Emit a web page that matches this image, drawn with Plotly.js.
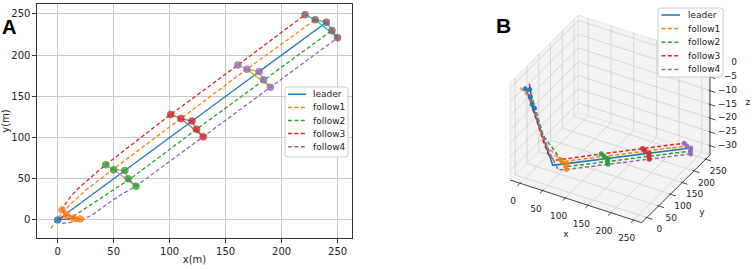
<!DOCTYPE html>
<html>
<head>
<meta charset="utf-8">
<script src="https://cdn.plot.ly/plotly-3.0.1.min.js"></script>
<style>html,body{margin:0;padding:0;background:#fff;}#chart{width:754px;height:269px;}</style>
</head>
<body>
<div id="chart"></div>
<script>
// ---------------- DATA ----------------
// trajectories: x, y (m) and depth z (3D panel)
const leaderX = [0, 40, 240];
const leaderY = [0, 40, 240];
const leaderZ = [0, -30, -30];

const follow1X = [-6, 3, 12, 25, 50, 110, 169, 230];
const follow1Y = [-10, 7, 20, 36, 62, 123, 183, 243];
const follow1Z = [0, -4, -12, -23, -30, -30, -30, -30];

const follow2X = [9, 30, 65, 124, 184, 245];
const follow2Y = [0, 19, 50, 110, 170, 230];
const follow2Z = [0, -18, -30, -30, -30, -30];

const follow3X = [3, 7, 12, 19, 27, 35, 43, 101, 161, 221];
const follow3Y = [12, 20, 29, 39, 49, 58, 67, 128, 188, 249];
const follow3Z = [0, -10, -15, -22, -28, -30, -30, -30, -30, -30];

const follow4X = [4, 12, 22, 32, 45, 57, 70, 130, 190, 250];
const follow4Y = [-4, -3, 0, 7, 20, 31, 41, 101, 161, 221];
const follow4Z = [0, -3, -8, -15, -24, -30, -30, -30, -30, -30];

// formation snapshots, order: follow3, follow1, leader, follow2, follow4
const form0X = [4, 8, 0, 14, 20];
const form0Y = [12, 6, 0, 2, 1];
const form0Z = [-2, -4, -1, -6, -7];
const form60X = [43, 50, 60, 63, 70];
const form60Y = [67, 61, 60, 50, 41];
const form120X = [101, 110, 120, 124, 130];
const form120Y = [128, 123, 120, 110, 101];
const form180X = [161, 169, 180, 184, 190];
const form180Y = [188, 183, 180, 170, 161];
const form240X = [221, 230, 240, 245, 250];
const form240Y = [249, 243, 240, 230, 221];
const formFloorZ = [-30, -30, -30, -30, -30];

const seriesNames = ['leader', 'follow1', 'follow2', 'follow3', 'follow4'];
const xTicks = [0, 50, 100, 150, 200, 250];
const yTicks = [0, 50, 100, 150, 200, 250];
const zTicks = [0, -5, -10, -15, -20, -25, -30];

// ---------------- STYLE / LAYOUT CONSTANTS ----------------
const C = ['#1f77b4', '#ff7f0e', '#2ca02c', '#d62728', '#9467bd', '#8c564b', '#e377c2', '#7f7f7f', '#bcbd22', '#17becf'];
const FONT = 'DejaVu Sans, sans-serif';
const W = 754, H = 269;
const DASH = '4px,2.4px';

// 3D panel: axis limits and an oblique view (elev 30, azim -60 look), in page pixels
const X3R = [-22, 268], Y3R = [-22, 268], Z3R = [-33.4, 2];
const VIEW = {ox: 510, oy: 180, ex: [0.4541, 0.1472], ey: [0.2355, -0.2334], ez: [0, -2.75]};
function proj(x, y, z) {
  const dx = x - X3R[0], dy = y - Y3R[0], dz = z - Z3R[0];
  return [VIEW.ox + dx * VIEW.ex[0] + dy * VIEW.ey[0] + dz * VIEW.ez[0],
          VIEW.oy + dx * VIEW.ex[1] + dy * VIEW.ey[1] + dz * VIEW.ez[1]];
}
function projArr(xs, ys, zs) {
  const px = [], py = [];
  xs.forEach((v, i) => { const p = proj(v, ys[i], zs[i]); px.push(p[0]); py.push(p[1]); });
  return {x: px, y: py};
}
function segs(list) {
  const px = [], py = [];
  list.forEach(s => { s.forEach(pt => { const p = proj(pt[0], pt[1], pt[2]); px.push(p[0]); py.push(p[1]); }); px.push(null); py.push(null); });
  return {x: px, y: py};
}

const paths = [
  {x: leaderX, y: leaderY, z: leaderZ, dash: 'solid'},
  {x: follow1X, y: follow1Y, z: follow1Z, dash: DASH},
  {x: follow2X, y: follow2Y, z: follow2Z, dash: DASH},
  {x: follow3X, y: follow3Y, z: follow3Z, dash: DASH},
  {x: follow4X, y: follow4Y, z: follow4Z, dash: DASH}
];
const forms = [
  {x: form0X, y: form0Y, z: form0Z, mc: [C[1], C[1], C[0], C[1], C[1]], mc3: C[0], lc: C[5]},
  {x: form60X, y: form60Y, z: formFloorZ, mc: C[2], mc3: C[1], lc: C[6]},
  {x: form120X, y: form120Y, z: formFloorZ, mc: C[3], mc3: C[2], lc: C[7]},
  {x: form180X, y: form180Y, z: formFloorZ, mc: C[4], mc3: C[3], lc: C[8]},
  {x: form240X, y: form240Y, z: formFloorZ, mc: C[5], mc3: C[4], lc: C[9]}
];
const linkOrder = [0, 1, 2, 3, 4, 1];

const traces = [];
// ---- Panel A ----
paths.forEach((p, i) => traces.push({
  type: 'scatter', mode: 'lines', x: p.x, y: p.y, name: seriesNames[i], showlegend: false,
  line: {color: C[i], width: 1.3, dash: p.dash}, xaxis: 'x', yaxis: 'y', hoverinfo: 'skip'
}));
forms.forEach(f => {
  traces.push({type: 'scatter', mode: 'lines', x: linkOrder.map(k => f.x[k]), y: linkOrder.map(k => f.y[k]),
    line: {color: f.lc, width: 1.3}, showlegend: false, hoverinfo: 'skip', xaxis: 'x', yaxis: 'y'});
  traces.push({type: 'scatter', mode: 'markers', x: f.x, y: f.y, xaxis: 'x', yaxis: 'y',
    marker: {color: f.mc, size: 7.5, opacity: 0.8}, showlegend: false, hoverinfo: 'skip'});
});

// ---- Panel B (oblique 3D view drawn on a pixel-space subplot) ----
const [x0, x1] = X3R, [y0, y1] = Y3R, [z0, z1] = Z3R;
const panes = [
  [[x0, y0, z0], [x1, y0, z0], [x1, y1, z0], [x0, y1, z0], [x0, y0, z0]],
  [[x0, y0, z0], [x0, y1, z0], [x0, y1, z1], [x0, y0, z1], [x0, y0, z0]],
  [[x0, y1, z0], [x1, y1, z0], [x1, y1, z1], [x0, y1, z1], [x0, y1, z0]]
];
panes.forEach(pg => {
  const p = projArr(pg.map(q => q[0]), pg.map(q => q[1]), pg.map(q => q[2]));
  traces.push({type: 'scatter', mode: 'lines', x: p.x, y: p.y, xaxis: 'x2', yaxis: 'y2', fill: 'toself',
    fillcolor: '#f3f3f3', line: {color: '#e2e2e2', width: 0.8}, showlegend: false, hoverinfo: 'skip'});
});
const grid = [];
xTicks.forEach(t => { grid.push([[t, y0, z0], [t, y1, z0]]); grid.push([[t, y1, z0], [t, y1, z1]]); });
yTicks.forEach(t => { grid.push([[x0, t, z0], [x1, t, z0]]); grid.push([[x0, t, z0], [x0, t, z1]]); });
zTicks.forEach(t => { grid.push([[x0, y0, t], [x0, y1, t]]); grid.push([[x0, y1, t], [x1, y1, t]]); });
const g = segs(grid);
traces.push({type: 'scatter', mode: 'lines', x: g.x, y: g.y, xaxis: 'x2', yaxis: 'y2',
  line: {color: '#d0d0d0', width: 0.8}, showlegend: false, hoverinfo: 'skip', connectgaps: false});
const axl = [
  [[x0, y0, z0], [x1, y0, z0]], [[x1, y0, z0], [x1, y1, z0]], [[x1, y1, z0], [x1, y1, z1]]
];
xTicks.forEach(t => axl.push([[t, y0 + 3, z0], [t, y0 - 12, z0]]));
yTicks.forEach(t => axl.push([[x1 - 3, t, z0], [x1 + 12, t, z0]]));
zTicks.forEach(t => axl.push([[x1 - 3, y1, t], [x1 + 12, y1, t]]));
const a = segs(axl);
traces.push({type: 'scatter', mode: 'lines', x: a.x, y: a.y, xaxis: 'x2', yaxis: 'y2',
  line: {color: '#333', width: 0.9}, showlegend: false, hoverinfo: 'skip'});
paths.forEach((p, i) => {
  const q = projArr(p.x, p.y, p.z);
  traces.push({type: 'scatter', mode: 'lines', x: q.x, y: q.y, xaxis: 'x2', yaxis: 'y2', showlegend: false,
    line: {color: C[i], width: 1.5, dash: p.dash}, hoverinfo: 'skip'});
});
forms.forEach(f => {
  const q = projArr(f.x, f.y, f.z);
  traces.push({type: 'scatter', mode: 'markers', x: q.x, y: q.y, xaxis: 'x2', yaxis: 'y2', showlegend: false,
    marker: {color: f.mc3, size: 5, opacity: 0.9}, hoverinfo: 'skip'});
});
const lab = (pts, texts, pos, dx, dy) => {
  const px = [], py = [];
  pts.forEach(pt => { const p = proj(pt[0], pt[1], pt[2]); px.push(p[0] + dx); py.push(p[1] + dy); });
  traces.push({type: 'scatter', mode: 'text', x: px, y: py, text: texts, textposition: pos, xaxis: 'x2', yaxis: 'y2',
    textfont: {family: FONT, size: 9, color: '#222'}, showlegend: false, hoverinfo: 'skip', cliponaxis: false});
};
const fmt = v => (v < 0 ? '\u2212' + Math.abs(v) : String(v));
lab(xTicks.map(t => [t, y0, z0]), xTicks.map(fmt), 'middle center', -6.8, 19);
lab(yTicks.map(t => [x1, t, z0]), yTicks.map(fmt), 'middle center', 12.5, 12.5);
lab(zTicks.map(t => [x1, y1, t]), zTicks.map(fmt), 'middle left', 27, 0);
lab([[(x0 + x1) / 2, y0, z0]], ['x'], 'middle center', -10, 33);
lab([[x1, (y0 + y1) / 2, z0]], ['y'], 'middle center', 26, 24);
lab([[x1, y1, (z0 + z1) / 2]], ['z'], 'middle center', 38, -4);

// ---------------- legends (drawn as shapes + text) ----------------
const shapes = [], annotations = [];
const px2x = v => v / W, py2y = v => 1 - v / H;
function roundRect(xa, ya, xb, yb, r) {
  const X = v => px2x(v), Y = v => py2y(v);
  return `M ${X(xa + r)} ${Y(ya)} L ${X(xb - r)} ${Y(ya)} Q ${X(xb)} ${Y(ya)} ${X(xb)} ${Y(ya + r)} L ${X(xb)} ${Y(yb - r)} Q ${X(xb)} ${Y(yb)} ${X(xb - r)} ${Y(yb)} L ${X(xa + r)} ${Y(yb)} Q ${X(xa)} ${Y(yb)} ${X(xa)} ${Y(yb - r)} L ${X(xa)} ${Y(ya + r)} Q ${X(xa)} ${Y(ya)} ${X(xa + r)} ${Y(ya)} Z`;
}
function legend(box, firstY, step, lx0, lx1, tx) {
  shapes.push({type: 'path', xref: 'paper', yref: 'paper', path: roundRect(box[0], box[1], box[2], box[3], 3),
    fillcolor: 'rgba(255,255,255,0.85)', line: {color: '#cccccc', width: 1}});
  seriesNames.forEach((n, i) => {
    const yy = firstY + i * step;
    shapes.push({type: 'line', xref: 'paper', yref: 'paper', x0: px2x(lx0), x1: px2x(lx1), y0: py2y(yy), y1: py2y(yy),
      line: {color: C[i], width: 1.5, dash: paths[i].dash}});
    annotations.push({text: n, xref: 'paper', yref: 'paper', x: px2x(tx), y: py2y(yy), xanchor: 'left', yanchor: 'middle',
      showarrow: false, font: {family: FONT, size: 9, color: '#222'}});
  });
}
legend([285, 87, 348, 157], 94.3, 13.1, 288, 306, 311);
legend([658, 8, 723, 77], 15, 13.6, 661.5, 680, 685.5);

annotations.push({text: '<b>A</b>', x: 0.0, y: py2y(27.5), xref: 'paper', yref: 'paper', xanchor: 'left', yanchor: 'middle',
  showarrow: false, font: {family: 'Liberation Sans, Arial, sans-serif', size: 20, color: '#000'}});
annotations.push({text: '<b>B</b>', x: px2x(494), y: py2y(26), xref: 'paper', yref: 'paper', xanchor: 'left', yanchor: 'middle',
  showarrow: false, font: {family: 'Liberation Sans, Arial, sans-serif', size: 21, color: '#000'}});

const layout = {
  width: W, height: H,
  margin: {l: 0, r: 0, t: 0, b: 0},
  paper_bgcolor: '#fff', plot_bgcolor: 'rgba(0,0,0,0)',
  font: {family: FONT, size: 10, color: '#222'},
  showlegend: false,
  xaxis: {
    domain: [0.049, 0.467], range: [-18.5, 263], tickvals: xTicks,
    showgrid: true, gridcolor: '#c8c8c8', gridwidth: 1, zeroline: false,
    showline: true, linecolor: '#333', linewidth: 1, mirror: true,
    ticks: 'outside', ticklen: 3.5, tickcolor: '#333',
    tickfont: {family: FONT, size: 10, color: '#222'},
    title: {text: 'x(m)', font: {family: FONT, size: 10, color: '#222'}, standoff: 0},
    automargin: false, anchor: 'y'
  },
  yaxis: {
    domain: [0.115, 0.985], range: [-22, 262], tickvals: yTicks,
    showgrid: true, gridcolor: '#c8c8c8', gridwidth: 1, zeroline: false,
    showline: true, linecolor: '#333', linewidth: 1, mirror: true,
    ticks: 'outside', ticklen: 3.5, tickcolor: '#333',
    tickfont: {family: FONT, size: 10, color: '#222'},
    title: {text: 'y(m)', font: {family: FONT, size: 10, color: '#222'}, standoff: 6},
    automargin: false, anchor: 'x'
  },
  xaxis2: {domain: [0.5, 1], range: [377, 754], visible: false, fixedrange: true, anchor: 'y2'},
  yaxis2: {domain: [0, 1], range: [269, 0], visible: false, fixedrange: true, anchor: 'x2'},
  shapes: shapes,
  annotations: annotations
};

Plotly.newPlot('chart', traces, layout, {staticPlot: true, displayModeBar: false});
</script>
</body>
</html>
